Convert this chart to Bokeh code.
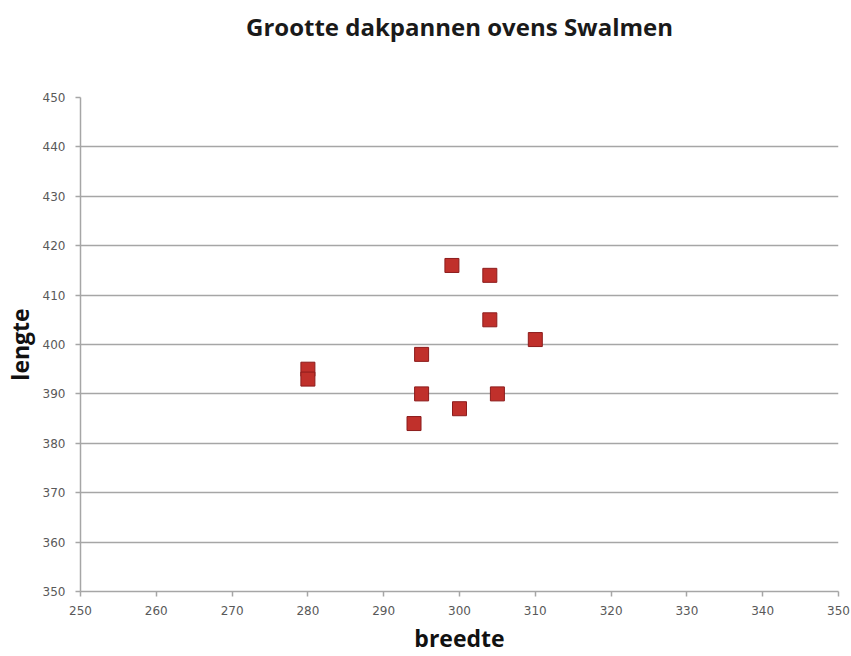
from bokeh.plotting import figure
from bokeh.embed import file_html
from bokeh.resources import INLINE
from bokeh.models import ColumnDataSource, FixedTicker, Title

# Data
breedte = [280, 280, 295, 295, 294, 299, 300, 304, 304, 305, 310]
lengte = [395, 393, 398, 390, 384, 416, 387, 414, 405, 390, 401]
x_ticks = [250, 260, 270, 280, 290, 300, 310, 320, 330, 340, 350]
y_ticks = [350, 360, 370, 380, 390, 400, 410, 420, 430, 440, 450]

title_text = "Grootte dakpannen ovens Swalmen"
x_label = "breedte"
y_label = "lengte"

source = ColumnDataSource(data=dict(x=breedte, y=lengte))

p = figure(width=851, height=656, x_range=(250, 350), y_range=(350, 450),
           output_backend="svg", toolbar_location=None,
           min_border_left=80, min_border_right=13, min_border_top=97,
           min_border_bottom=62, title=title_text)

p.outline_line_color = None
p.background_fill_color = "white"
p.border_fill_color = "white"

# spacer between title and plot frame
p.add_layout(Title(text=" ", text_font_size="10px", standoff=33), "above")

p.title.align = "center"
p.title.vertical_align = "top"
p.title.text_font = "Open Sans"
p.title.text_font_size = "24px"
p.title.text_font_style = "bold"
p.title.text_color = "#1a1a1a"
p.title.standoff = 14
p.title.offset = 4

for ax in (p.xaxis[0], p.yaxis[0]):
    ax.axis_line_color = "#a6a6a6"
    ax.axis_line_width = 1.5
    ax.major_tick_line_color = "#a6a6a6"
    ax.major_tick_line_width = 1.5
    ax.major_tick_out = 5
    ax.major_tick_in = 0
    ax.minor_tick_line_color = None
    ax.major_label_text_font = "DejaVu Sans"
    ax.major_label_text_font_size = "12px"
    ax.major_label_text_color = "#595959"
    ax.axis_label_text_font = "Open Sans"
    ax.axis_label_text_font_size = "23px"
    ax.axis_label_text_font_style = "bold"
    ax.axis_label_text_color = "#111111"

p.xaxis[0].ticker = FixedTicker(ticks=x_ticks)
p.yaxis[0].ticker = FixedTicker(ticks=y_ticks)
p.xaxis[0].axis_label = x_label
p.yaxis[0].axis_label = y_label
p.xaxis[0].major_label_standoff = 9
p.yaxis[0].major_label_standoff = 10
p.xaxis[0].axis_label_standoff = 4
p.yaxis[0].axis_label_standoff = 4

p.xgrid.grid_line_color = None
p.ygrid.grid_line_color = "#a6a6a6"
p.ygrid.grid_line_width = 1.5
p.ygrid.ticker = FixedTicker(ticks=y_ticks)

p.scatter(x="x", y="y", source=source, marker="square", size=14,
          fill_color="#c0302b", line_color="#8c1c1c", line_width=1)

open("out.html", "w").write(file_html(p, INLINE))
